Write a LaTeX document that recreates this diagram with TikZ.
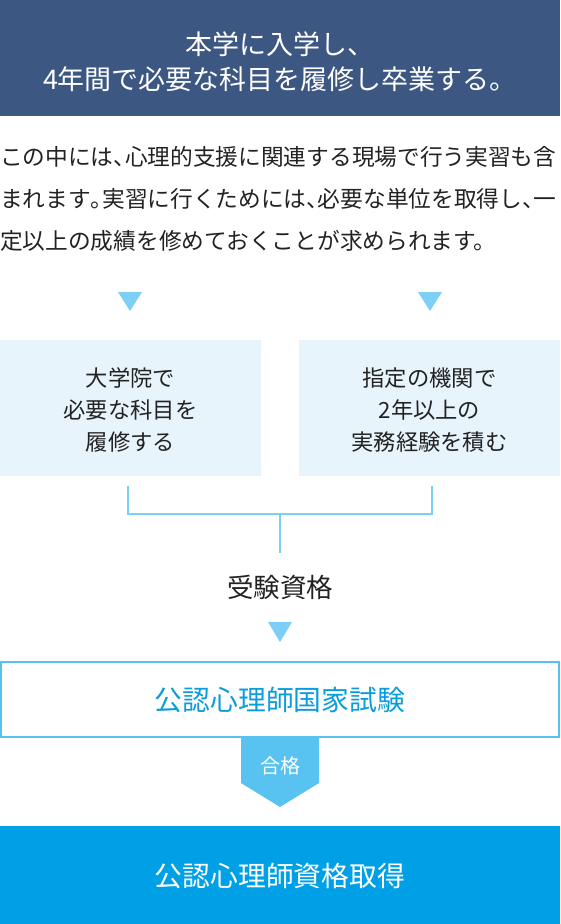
\documentclass[tikz,border=0pt]{standalone}
\usepackage{fontspec}
\setmainfont{Noto Sans CJK JP}
\definecolor{banner}{HTML}{3D5783}
\definecolor{txt}{HTML}{222222}
\definecolor{tri}{HTML}{7DCFF5}
\definecolor{boxfill}{HTML}{E8F4FC}
\definecolor{examborder}{HTML}{56C2F0}
\definecolor{examtxt}{HTML}{0A9CDB}
\definecolor{passfill}{HTML}{58C3F1}
\definecolor{finalfill}{HTML}{00A0E6}
\newcommand{\hw}[1]{\makebox[0.5em][l]{#1}}
\tikzset{
  marker/.style={fill=tri},
  bracketline/.style={draw=tri, line width=2pt},
  paraline/.style={anchor=west, inner sep=0pt, text=txt, font=\fontsize{22.7}{26}\selectfont},
  boxtext/.style={align=center, text=txt, font=\fontsize{22.3}{32}\selectfont},
}
\begin{document}
\begin{tikzpicture}[x=1pt,y=-1pt]
\useasboundingbox (0,0) rectangle (560,924);
% banner
\fill[banner] (0,0) rectangle (560,116);
\node[align=center, text=white, font=\fontsize{27}{35}\selectfont] (banner) at (280,62) {本学に入学し、\\4年間で必要な科目を履修し卒業する。};
% paragraph
\node[paraline] (p1) at (0,157) {この中には\hw{、}心理的支援に関連する現場で行う実習も含};
\node[paraline] (p2) at (0,199) {まれます\hw{。}実習に行くためには\hw{、}必要な単位を取得し\hw{、}一};
\node[paraline] (p3) at (0,241) {定以上の成績を修めておくことが求められます。};
% markers
\fill[marker] (118,292) -- (142,292) -- (130,311) -- cycle;
\fill[marker] (418,292) -- (442,292) -- (430,311) -- cycle;
% two boxes
\fill[boxfill] (0,340) rectangle (261,476);
\fill[boxfill] (299,340) rectangle (560,476);
\node[boxtext] (left) at (130.5,410) {大学院で\\必要な科目を\\履修する};
\node[boxtext] (right) at (429.5,410) {指定の機関で\\2年以上の\\実務経験を積む};
% bracket
\coordinate (bl) at (128,486);
\coordinate (br) at (432,486);
\coordinate (blc) at (128,514);
\coordinate (brc) at (432,514);
\coordinate (bj) at (280,514);
\coordinate (bm) at (280,553);
\draw[bracketline] (bl) -- (blc) -- (brc) -- (br);
\draw[bracketline] (bj) -- (bm);
\node[text=txt, font=\fontsize{26.5}{30}\selectfont] (qual) at (280,587) {受験資格};
\fill[marker] (268,622) -- (292,622) -- (280,642) -- cycle;
% exam box
\draw[draw=examborder, line width=2pt] (1,662) rectangle (559,737);
\node[text=examtxt, font=\fontsize{27.8}{30}\selectfont] (exam) at (280,699.5) {公認心理師国家試験};
% pass arrow
\fill[passfill] (241,738) -- (319,738) -- (319,783) -- (280,807) -- (241,783) -- cycle;
\node[text=white, font=\fontsize{20}{22}\selectfont] (pass) at (280,766) {合格};
% final box
\fill[finalfill] (0,826) rectangle (560,924);
\node[text=white, font=\fontsize{27.8}{30}\selectfont] (final) at (280,876) {公認心理師資格取得};
\end{tikzpicture}
\end{document}
